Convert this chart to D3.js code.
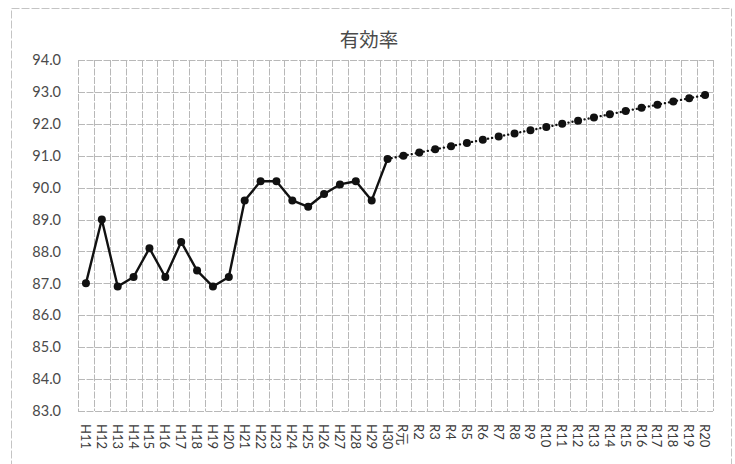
<!DOCTYPE html>
<html>
<head>
<meta charset="utf-8">
<script src="https://cdn.jsdelivr.net/npm/d3@7"></script>
<style>
  html, body { margin: 0; padding: 0; background: #fff; }
  svg { display: block; }
</style>
</head>
<body>
<svg id="chart" width="735" height="464"></svg>
<script>
// Fiscal-year categories: Heisei 11–30, then Reiwa 元–20
const categories = [
  "H11","H12","H13","H14","H15","H16","H17","H18","H19","H20",
  "H21","H22","H23","H24","H25","H26","H27","H28","H29","H30",
  "R元","R2","R3","R4","R5","R6","R7","R8","R9","R10",
  "R11","R12","R13","R14","R15","R16","R17","R18","R19","R20"
];

// Actual values (H11–H30)
const actualYears = categories.slice(0, 20);
const actualValues = [
  87.0, 89.0, 86.9, 87.2, 88.1, 87.2, 88.3, 87.4, 86.9, 87.2,
  89.6, 90.2, 90.2, 89.6, 89.4, 89.8, 90.1, 90.2, 89.6, 90.9
];

// Projected values (H30 anchor, then R元–R20)
const projectedYears = categories.slice(19);
const projectedValues = [
  90.9,
  91.0, 91.1, 91.2, 91.3, 91.4, 91.5, 91.6, 91.7, 91.8, 91.9,
  92.0, 92.1, 92.2, 92.3, 92.4, 92.5, 92.6, 92.7, 92.8, 92.9
];

const yTicks = [83, 84, 85, 86, 87, 88, 89, 90, 91, 92, 93, 94];
const chartTitle = "有効率";

const svg = d3.select("#chart");
const plot = { left: 78, right: 713, top: 60, bottom: 411 };

// Outer chart frame
svg.append("rect")
  .attr("x", 11.5).attr("y", 8.5)
  .attr("width", 720).attr("height", 460)
  .attr("fill", "none")
  .attr("stroke", "#c4c4c4")
  .attr("stroke-width", 1)
  .attr("stroke-dasharray", "8,2");

const x = d3.scaleBand()
  .domain(categories)
  .range([plot.left, plot.right])
  .paddingInner(0).paddingOuter(0);

const y = d3.scaleLinear()
  .domain([83, 94])
  .range([plot.bottom, plot.top]);

const cx = d => x(d) + x.bandwidth() / 2;

// Gridlines
const grid = svg.append("g").attr("class", "grid")
  .attr("stroke", "#b8b8b8")
  .attr("stroke-width", 1)
  .attr("stroke-dasharray", "7,1.5");

grid.selectAll("line.h").data(yTicks).join("line")
  .attr("class", "h")
  .attr("x1", plot.left).attr("x2", plot.right)
  .attr("y1", d => Math.round(y(d)) + 0.5)
  .attr("y2", d => Math.round(y(d)) + 0.5);

const vEdges = categories.map(c => x(c)).concat([plot.right]);
grid.selectAll("line.v").data(vEdges).join("line")
  .attr("class", "v")
  .attr("y1", plot.top).attr("y2", plot.bottom)
  .attr("x1", d => Math.round(d) + 0.5)
  .attr("x2", d => Math.round(d) + 0.5);

// Y axis labels
const yAxis = d3.axisLeft(y)
  .tickValues(yTicks)
  .tickFormat(d3.format(".1f"))
  .tickSize(0)
  .tickPadding(17);

const ya = svg.append("g")
  .attr("transform", `translate(${plot.left},0)`)
  .call(yAxis);
ya.select(".domain").remove();
ya.selectAll("text")
  .attr("fill", "#4a4a4a")
  .style("font-family", "Lato, 'Noto Sans', sans-serif")
  .style("font-size", "14.5px");

// X axis labels, rotated to read top-down
const xAxis = d3.axisBottom(x).tickSize(0).tickPadding(0);
const xa = svg.append("g")
  .attr("transform", `translate(0,${plot.bottom})`)
  .call(xAxis);
xa.select(".domain").remove();
xa.selectAll("text")
  .attr("fill", "#3a3a3a")
  .attr("y", 0)
  .attr("dy", "0")
  .attr("text-anchor", "start")
  .attr("dominant-baseline", "central")
  .attr("transform", "translate(0,13) rotate(90)")
  .style("font-family", "Lato, 'Noto Sans', 'Noto Sans CJK JP', sans-serif")
  .style("font-size", "13px");

// Title
svg.append("text")
  .attr("x", 369).attr("y", 47)
  .attr("text-anchor", "middle")
  .attr("fill", "#4a4a4a")
  .style("font-family", "'Noto Sans CJK JP', sans-serif")
  .style("font-size", "19.5px")
  .text(chartTitle);

const actual = actualYears.map((c, i) => ({ c, v: actualValues[i] }));
const projected = projectedYears.map((c, i) => ({ c, v: projectedValues[i] }));

const line = d3.line().x(d => cx(d.c)).y(d => y(d.v));

// Projection: dotted line
svg.append("path")
  .datum(projected)
  .attr("d", line)
  .attr("fill", "none")
  .attr("stroke", "#111")
  .attr("stroke-width", 2.3)
  .attr("stroke-linecap", "round")
  .attr("stroke-dasharray", "0.1,4");

// Actual: solid line
svg.append("path")
  .datum(actual)
  .attr("d", line)
  .attr("fill", "none")
  .attr("stroke", "#111")
  .attr("stroke-width", 2.4)
  .attr("stroke-linejoin", "round");

// Markers
svg.append("g").selectAll("circle")
  .data(actual.concat(projected.slice(1)))
  .join("circle")
  .attr("cx", d => cx(d.c))
  .attr("cy", d => y(d.v))
  .attr("r", 4)
  .attr("fill", "#111");
</script>
</body>
</html>
